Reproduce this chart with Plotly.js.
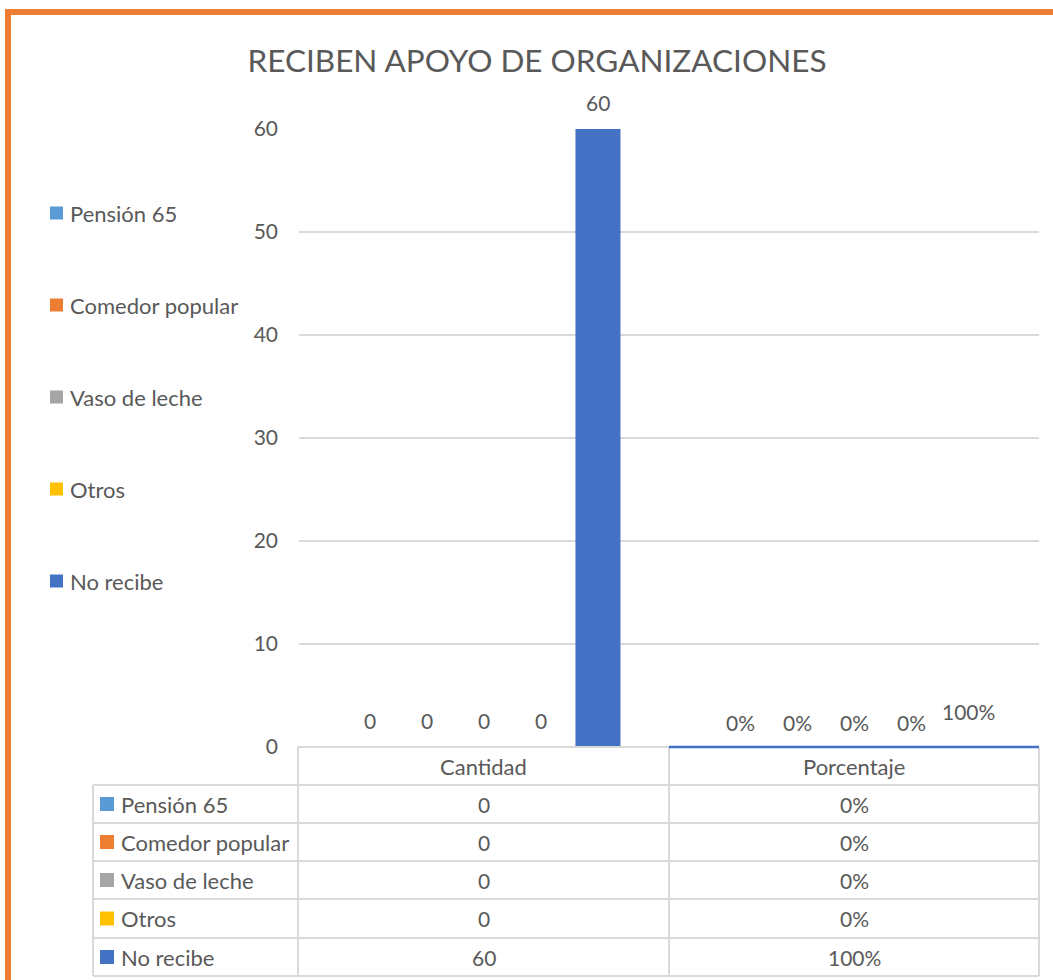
<!DOCTYPE html>
<html>
<head>
<meta charset="utf-8">
<script src="https://cdn.plot.ly/plotly-3.0.1.min.js"></script>
<style>html,body{margin:0;padding:0;background:#fff;}#chart{width:1053px;height:980px;}</style>
</head>
<body>
<div id="chart"></div>
<script>
// ---- data ----
const categories = ['Cantidad', 'Porcentaje'];
const seriesNames = ['Pensión 65', 'Comedor popular', 'Vaso de leche', 'Otros', 'No recibe'];
const cantidad = [0, 0, 0, 0, 60];
const porcentaje = [0, 0, 0, 0, 1];   // fractions (100% = 1)
const yTicks = [0, 10, 20, 30, 40, 50, 60];
const titleText = 'RECIBEN APOYO DE ORGANIZACIONES';

// ---- styles ----
const colors = ['#5B9BD5', '#ED7D31', '#A5A5A5', '#FFC000', '#4472C4'];
const FONT = 'Lato, "Open Sans", sans-serif';
const TXT = '#595959';
const GRID = '#D9D9D9';
const WORD = 22, NUM = 21;
const W = 1053, H = 980;
const L = 299, R = 1039, T = 129, B = 747;

const px2x = p => (p - L) / (R - L);
const px2y = p => (B - p) / (B - T);

const fmtPct = v => Math.round(v * 100) + '%';

const traces = seriesNames.map((name, i) => ({
  type: 'bar',
  name: name,
  x: categories,
  y: [cantidad[i], porcentaje[i]],
  marker: {color: [colors[i], 'rgba(0,0,0,0)']},
  hoverinfo: 'skip',
  showlegend: false
}));

const annotations = [];
const shapes = [];
const slot = 57; // px offset between bars within a group

// data labels
seriesNames.forEach((name, i) => {
  annotations.push({
    xref: 'x', yref: 'y', x: categories[0], y: cantidad[i],
    xshift: (i - 2) * slot, yshift: 27, yanchor: 'middle',
    text: String(cantidad[i]), showarrow: false,
    font: {family: FONT, size: NUM, color: TXT}
  });
  annotations.push({
    xref: 'x', yref: 'y', x: categories[1], y: porcentaje[i],
    xshift: (i - 2) * slot, yshift: 25, yanchor: 'middle',
    text: fmtPct(porcentaje[i]), showarrow: false,
    font: {family: FONT, size: NUM, color: TXT}
  });
});

// left legend
const legY = [213, 305, 397, 489, 581];
seriesNames.forEach((name, i) => {
  shapes.push({type: 'rect', xref: 'paper', yref: 'paper',
    x0: px2x(50), x1: px2x(63), y0: px2y(legY[i] - 6.5), y1: px2y(legY[i] + 6.5),
    fillcolor: colors[i], line: {width: 0}});
  annotations.push({xref: 'paper', yref: 'paper', x: px2x(68), y: px2y(legY[i]),
    xanchor: 'left', yanchor: 'middle', text: name, showarrow: false,
    font: {family: FONT, size: WORD, color: TXT}});
});

// data table
const colX = [93, 298, 669, 1039];
const rowY = [747, 785, 823, 861, 899, 938, 976];
const line = (x0, y0, x1, y1, c, w) => shapes.push({type: 'line', xref: 'paper', yref: 'paper',
  x0: px2x(x0), y0: px2y(y0), x1: px2x(x1), y1: px2y(y1), line: {color: c || GRID, width: w || 2}});
line(colX[1], rowY[0], colX[3], rowY[0]);
for (let r = 1; r < rowY.length; r++) line(colX[0], rowY[r], colX[3], rowY[r]);
line(colX[0], rowY[1], colX[0], rowY[6]);
for (let c = 1; c < colX.length; c++) line(colX[c], rowY[0], colX[c], rowY[6]);
// blue baseline under the Porcentaje group
line(colX[2], rowY[0], colX[3], rowY[0], '#4472C4', 2.5);

// header texts
categories.forEach((c, j) => {
  annotations.push({xref: 'paper', yref: 'paper', x: px2x((colX[j + 1] + colX[j + 2]) / 2),
    y: px2y((rowY[0] + rowY[1]) / 2), xanchor: 'center', yanchor: 'middle', text: c,
    showarrow: false, font: {family: FONT, size: WORD, color: TXT}});
});
seriesNames.forEach((name, i) => {
  const cy = (rowY[i + 1] + rowY[i + 2]) / 2;
  shapes.push({type: 'rect', xref: 'paper', yref: 'paper',
    x0: px2x(100), x1: px2x(114), y0: px2y(cy - 7), y1: px2y(cy + 7),
    fillcolor: colors[i], line: {width: 0}});
  annotations.push({xref: 'paper', yref: 'paper', x: px2x(119), y: px2y(cy),
    xanchor: 'left', yanchor: 'middle', text: name, showarrow: false,
    font: {family: FONT, size: WORD, color: TXT}});
  annotations.push({xref: 'paper', yref: 'paper', x: px2x((colX[1] + colX[2]) / 2), y: px2y(cy),
    xanchor: 'center', yanchor: 'middle', text: String(cantidad[i]), showarrow: false,
    font: {family: FONT, size: NUM, color: TXT}});
  annotations.push({xref: 'paper', yref: 'paper', x: px2x((colX[2] + colX[3]) / 2), y: px2y(cy),
    xanchor: 'center', yanchor: 'middle', text: fmtPct(porcentaje[i]), showarrow: false,
    font: {family: FONT, size: NUM, color: TXT}});
});

// orange outer border
shapes.push({type: 'rect', xref: 'paper', yref: 'paper',
  x0: px2x(8), x1: px2x(1080), y0: px2y(1010), y1: px2y(12),
  line: {color: '#ED7D31', width: 6}, fillcolor: 'rgba(0,0,0,0)'});

const layout = {
  width: W, height: H,
  margin: {l: L, r: W - R, t: T, b: H - B, pad: 0},
  paper_bgcolor: '#fff', plot_bgcolor: '#fff',
  font: {family: FONT, color: TXT, size: NUM},
  title: {text: titleText, font: {family: FONT, size: 31.5, color: TXT},
    xref: 'container', yref: 'container', x: 537 / W, xanchor: 'center', y: 1 - 61 / H, yanchor: 'middle'},
  barmode: 'group', bargap: 0.23, bargroupgap: 0.21,
  xaxis: {type: 'category', categoryorder: 'array', categoryarray: categories,
    showticklabels: false, showgrid: false, zeroline: false, showline: false, ticks: ''},
  yaxis: {range: [0, 60], tickvals: yTicks, ticktext: yTicks.map(String), showgrid: true,
    gridcolor: GRID, gridwidth: 2, zeroline: false, showline: false, ticks: '',
    ticklabelstandoff: 20, tickfont: {family: FONT, size: NUM, color: TXT}},
  showlegend: false,
  shapes: shapes,
  annotations: annotations
};

Plotly.newPlot('chart', traces, layout, {displayModeBar: false, staticPlot: true});
</script>
</body>
</html>
